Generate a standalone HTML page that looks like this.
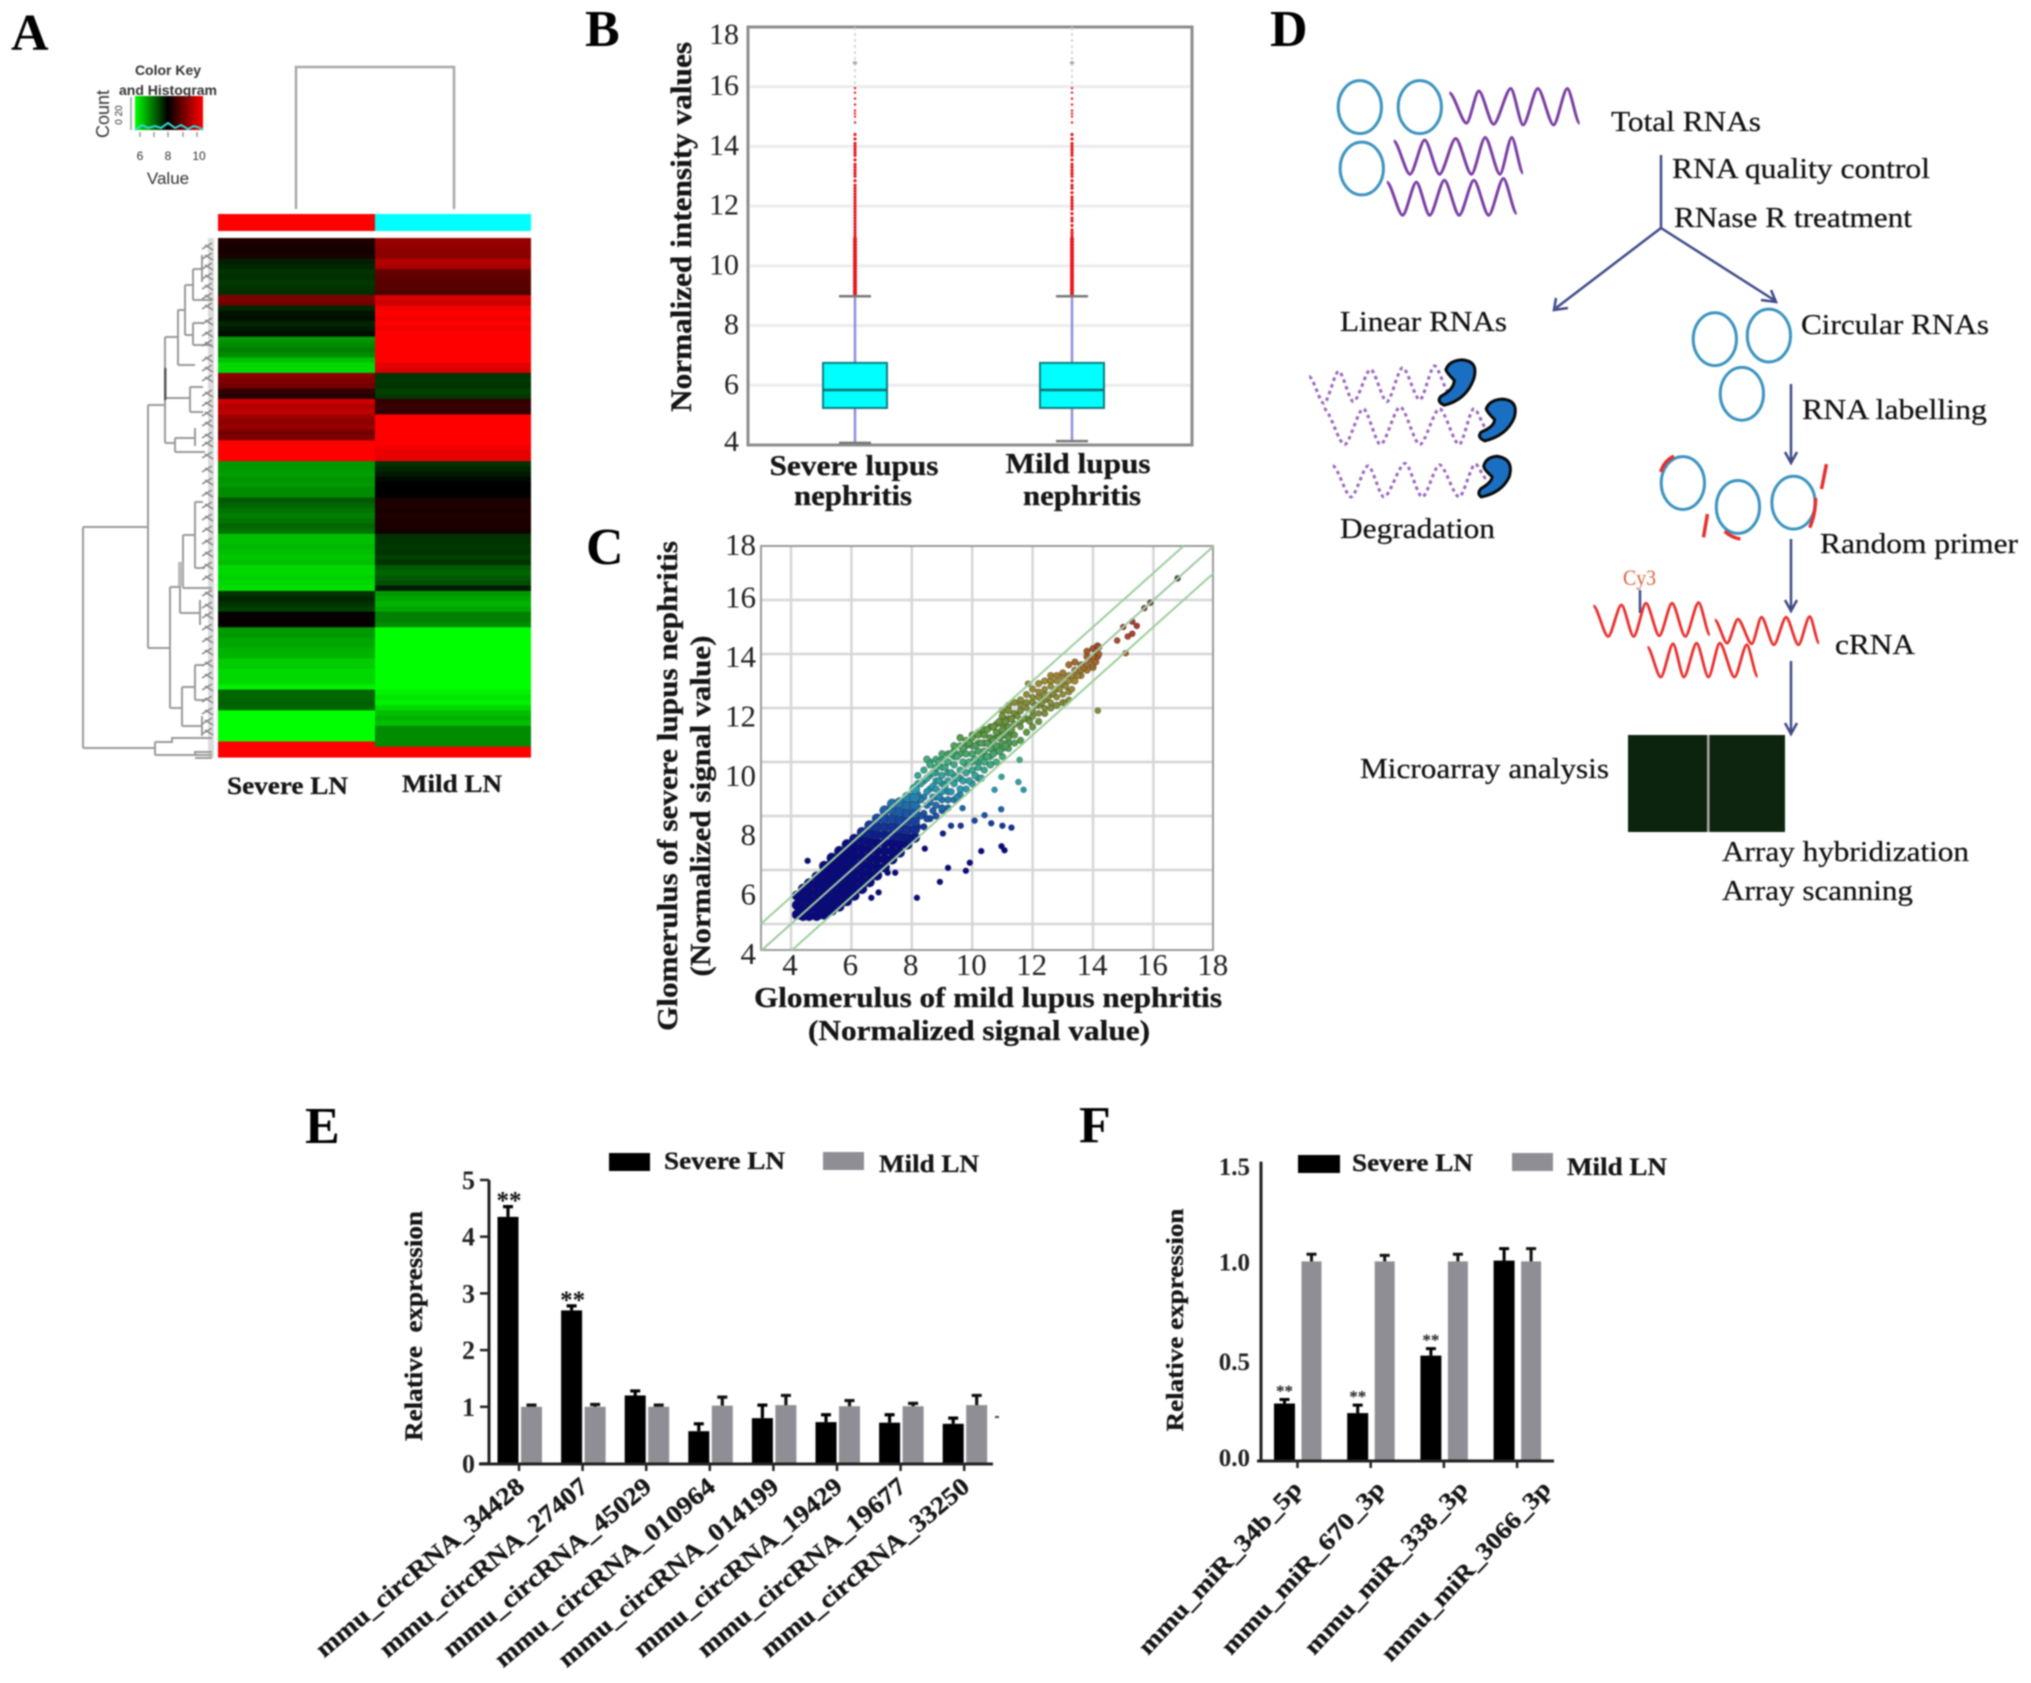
<!DOCTYPE html>
<html lang="en">
<head>
<meta charset="utf-8">
<title>Circular RNA microarray figure panels A-F</title>
<style>
html,body{margin:0;padding:0;background:#fff;}
body{width:2031px;height:1683px;overflow:hidden;}
svg{display:block;filter:blur(0.9px);}
text{font-family:"Liberation Serif",serif;}
.panel{font-size:52px;font-weight:bold;fill:#000;}
.bold{font-weight:bold;fill:#151515;stroke:#151515;stroke-width:.3px;}
.flow{font-size:29px;fill:#111;stroke:#111;stroke-width:.25px;}
.key{font-family:"Liberation Sans",sans-serif;fill:#333;}
</style>
</head>
<body>
<svg id="figure" xmlns="http://www.w3.org/2000/svg" width="2031" height="1683" viewBox="0 0 2031 1683">
<rect width="2031" height="1683" fill="#fff"/>

<!-- PANEL A -->
<g id="panelA">
  <text class="panel" x="11" y="50">A</text>
  <g>
    <defs>
      <linearGradient id="keyGrad" x1="0" x2="1" y1="0" y2="0">
        <stop offset="0" stop-color="#00ff00"/><stop offset="0.48" stop-color="#000"/><stop offset="1" stop-color="#ff0000"/>
      </linearGradient>
    </defs>
    <rect x="135" y="96" width="68" height="34" fill="url(#keyGrad)"/>
    <path d="M135 130 L142 125 L148 128 L155 126 L161 128 L168 123 L175 128 L181 125 L188 129 L194 126 L200 128 L203 130" fill="none" stroke="#2fd6d6" stroke-width="2"/>
    <path d="M140 132v5M154 132v5M168 132v5M183 132v5M197 132v5M131 97v33" fill="none" stroke="#999" stroke-width="1.5"/>
    <text class="key" x="168" y="75" text-anchor="middle" font-size="14" font-weight="bold">Color Key</text>
    <text class="key" x="168" y="95" text-anchor="middle" font-size="14" font-weight="bold">and Histogram</text>
    <text class="key" transform="translate(109,114) rotate(-90)" text-anchor="middle" font-size="18">Count</text>
    <text class="key" transform="translate(122,115) rotate(-90)" text-anchor="middle" font-size="10">0 20</text>
    <text class="key" x="140" y="160" text-anchor="middle" font-size="12">6</text>
    <text class="key" x="168" y="160" text-anchor="middle" font-size="12">8</text>
    <text class="key" x="199" y="160" text-anchor="middle" font-size="12">10</text>
    <text class="key" x="168" y="184" text-anchor="middle" font-size="17">Value</text>
  </g>
  <path d="M296 209V67H454V209" fill="none" stroke="#a8a8a8" stroke-width="2.5"/>
  <rect x="208" y="238" width="6" height="520" fill="#dcdcdc"/>
  <path id="rowDendro" fill="none" stroke="#9a9a9a" stroke-width="2"
    d="M83 527V748M83 527H148M148 405V648M148 405H165M165 337V443M165 337H178M178 310V365M178 365H195M178 310H185M185 285V335M185 285H193M193 269V300M193 300H212M193 269H202M202 255V282M185 335H193M193 323V345M193 345H212M193 323H203
       M190 387V412M165 398H190M190 387H203M190 412H203M165 443H175M175 438V452M175 438H195M175 452H205M195 428V446
       M148 648H170M170 587V708M170 587H180M180 562V613M180 613H200M200 600V625M180 565H183M183 535V588M183 588H212M183 535H195M195 502V568M195 502H203M195 568H205
       M170 708H182M182 687V726M182 726H202M202 716V736M182 687H195M195 665V700M195 665H203M195 700H205
       M83 748H155M155 742V755M155 742H172V738H212M155 755H195V752H212M195 755H212M195 758H212"/>
  <rect x="164" y="368" width="2.5" height="32" fill="#555"/>
  <rect x="178" y="562" width="5" height="24" fill="#bbb"/>
  <g id="rowLeaves"></g>
  <rect x="218" y="214" width="157" height="17" fill="#ff0000"/>
  <rect x="375" y="214" width="156" height="17" fill="#00ffff"/>
  <g id="heatCells"></g>
  <text class="bold" x="227" y="794" font-size="25" textLength="121" lengthAdjust="spacingAndGlyphs">Severe LN</text>
  <text class="bold" x="402" y="792" font-size="25" textLength="100" lengthAdjust="spacingAndGlyphs">Mild LN</text>
</g>

<!-- PANEL B -->
<g id="panelB">
  <text class="panel" x="585" y="46">B</text>
  <g id="boxGrid"></g>
  <rect x="748" y="27" width="444" height="418" fill="none" stroke="#8c8c8c" stroke-width="3"/>
  <g id="boxMarks"></g>
  <g id="boxTicks"></g>
  <text class="bold" transform="translate(691,227) rotate(-90)" text-anchor="middle" font-size="30" textLength="370" lengthAdjust="spacingAndGlyphs">Normalized intensity values</text>
  <text class="bold" x="854" y="475" text-anchor="middle" font-size="29" textLength="169" lengthAdjust="spacingAndGlyphs">Severe lupus</text>
  <text class="bold" x="853" y="505" text-anchor="middle" font-size="29" textLength="118" lengthAdjust="spacingAndGlyphs">nephritis</text>
  <text class="bold" x="1078" y="473" text-anchor="middle" font-size="29" textLength="145" lengthAdjust="spacingAndGlyphs">Mild lupus</text>
  <text class="bold" x="1082" y="505" text-anchor="middle" font-size="29" textLength="118" lengthAdjust="spacingAndGlyphs">nephritis</text>
</g>

<!-- PANEL C -->
<g id="panelC">
  <text class="panel" x="586" y="564">C</text>
  <g id="scatterGrid"></g>
  <rect x="761" y="546" width="452" height="404" fill="none" stroke="#9a9a9a" stroke-width="2"/>
  <g id="scatterPoints"></g>
  <g id="scatterLines"></g>
  <g id="scatterTicks"></g>
  <text class="bold" x="988" y="1007" text-anchor="middle" font-size="29" textLength="468" lengthAdjust="spacingAndGlyphs">Glomerulus of mild lupus nephritis</text>
  <text class="bold" x="979" y="1040" text-anchor="middle" font-size="29" textLength="342" lengthAdjust="spacingAndGlyphs">(Normalized signal value)</text>
  <text class="bold" transform="translate(677,786) rotate(-90)" text-anchor="middle" font-size="29" textLength="490" lengthAdjust="spacingAndGlyphs">Glomerulus of severe lupus nephritis</text>
  <text class="bold" transform="translate(710,806) rotate(-90)" text-anchor="middle" font-size="29" textLength="341" lengthAdjust="spacingAndGlyphs">(Normalized signal value)</text>
</g>

<!-- PANEL D -->
<g id="panelD">
  <text class="panel" x="1270" y="46">D</text>
  <g transform="translate(1260,0) scale(.4917,.357)" fill="none">
    <g stroke="#3c94bf" stroke-width="3">
      <ellipse cx="203" cy="300" rx="44" ry="74" vector-effect="non-scaling-stroke"/>
      <ellipse cx="325" cy="300" rx="44" ry="74" vector-effect="non-scaling-stroke"/>
      <ellipse cx="207" cy="472" rx="44" ry="74" vector-effect="non-scaling-stroke"/>
      <ellipse cx="925" cy="950" rx="44" ry="74" vector-effect="non-scaling-stroke"/>
      <ellipse cx="1035" cy="940" rx="44" ry="74" vector-effect="non-scaling-stroke"/>
      <ellipse cx="980" cy="1103" rx="44" ry="74" vector-effect="non-scaling-stroke"/>
      <ellipse cx="860" cy="1353" rx="44" ry="74" vector-effect="non-scaling-stroke"/>
      <ellipse cx="972" cy="1420" rx="44" ry="74" vector-effect="non-scaling-stroke"/>
      <ellipse cx="1085" cy="1408" rx="44" ry="74" vector-effect="non-scaling-stroke"/>
    </g>
    <g stroke="#7a3fa3" stroke-width="3" stroke-linejoin="round">
      <path class="wave" vector-effect="non-scaling-stroke" data-points="385,260 420,345 445,255 475,348 510,248 535,350 565,248 597,350 625,248 650,345"/>
      <path class="wave" vector-effect="non-scaling-stroke" data-points="272,395 305,488 335,392 365,488 398,388 430,488 458,385 488,488 512,385 535,485"/>
      <path class="wave" vector-effect="non-scaling-stroke" data-points="258,510 290,603 318,510 345,603 375,505 405,603 435,505 465,603 495,500 522,598"/>
    </g>
    <g stroke="#9a66bd" stroke-width="3" stroke-dasharray="3.5 3.5">
      <path class="wave" vector-effect="non-scaling-stroke" data-points="100,1055 130,1130 160,1040 190,1125 225,1035 258,1125 290,1030 325,1120 355,1025 385,1100"/>
      <path class="wave" vector-effect="non-scaling-stroke" data-points="130,1145 172,1245 210,1145 245,1245 285,1140 325,1245 365,1145 405,1245 435,1145 465,1210"/>
      <path class="wave" vector-effect="non-scaling-stroke" data-points="148,1305 185,1392 220,1305 252,1392 295,1298 330,1392 365,1302 405,1392 438,1300 460,1340"/>
    </g>
    <g fill="#1b6fc2" stroke="#0a0a0a" stroke-width="3">
      <path vector-effect="non-scaling-stroke" d="M410 1008Q445 1010 435 1060Q420 1120 375 1135Q358 1125 368 1110Q395 1090 395 1065Q380 1045 378 1035Q385 1010 410 1008Z"/>
      <path vector-effect="non-scaling-stroke" d="M492 1118Q527 1120 517 1170Q502 1220 457 1235Q440 1225 450 1210Q477 1195 477 1175Q462 1155 460 1145Q467 1120 492 1118Z"/>
      <path vector-effect="non-scaling-stroke" d="M482 1278Q517 1285 507 1335Q492 1380 450 1392Q440 1382 450 1368Q472 1350 472 1335Q455 1315 455 1305Q460 1280 482 1278Z"/>
    </g>
    <g stroke="#e52f2f" stroke-width="3.5">
      <path vector-effect="non-scaling-stroke" d="M815 1322Q822 1290 842 1278"/>
      <path vector-effect="non-scaling-stroke" d="M1152 1300L1142 1370"/>
      <path vector-effect="non-scaling-stroke" d="M1130 1395Q1130 1440 1118 1478"/>
      <path vector-effect="non-scaling-stroke" d="M910 1440L902 1505"/>
      <path vector-effect="non-scaling-stroke" d="M945 1488Q958 1505 977 1510"/>
    </g>
  </g>
  <g fill="none" stroke="#3f4a88" stroke-width="2.5">
    <path d="M1661 155V228"/>
    <path d="M1661 228L1556 308M1556 298L1554 310L1568 308"/>
    <path d="M1661 228L1774 300M1761 300L1776 302L1771 290"/>
    <path d="M1791 384V462M1785 452L1791 463L1797 452"/>
    <path d="M1791 539V610M1785 600L1791 611L1797 600"/>
    <path d="M1791 661V733M1785 723L1791 734L1797 723"/>
    <path d="M1640 590V613"/>
  </g>
  <g fill="none" stroke="#e8302f" stroke-width="2.8" stroke-linejoin="round" transform="translate(1260,480) scale(.4917,.333)">
    <path class="wave" vector-effect="non-scaling-stroke" data-points="678,378 708,470 735,375 760,470 785,370 812,468 838,370 865,470 892,368 915,465"/>
    <path class="wave" vector-effect="non-scaling-stroke" data-points="925,420 950,490 972,418 1000,492 1020,412 1045,495 1070,412 1095,495 1118,410 1137,490"/>
    <path class="wave" vector-effect="non-scaling-stroke" data-points="788,502 815,592 840,492 862,592 888,490 912,592 935,490 965,592 990,495 1012,590"/>
  </g>
  <text x="1623" y="585" font-size="22" fill="#d9603a" textLength="33" lengthAdjust="spacingAndGlyphs">Cy3</text>
  <rect x="1628" y="735" width="79" height="97" fill="#0c230d"/>
  <rect x="1709" y="735" width="76" height="97" fill="#0d250e"/>
  <rect x="1707" y="735" width="2.5" height="97" fill="#aaa"/>
  <text class="flow" x="1611" y="131" textLength="150" lengthAdjust="spacingAndGlyphs">Total RNAs</text>
  <text class="flow" x="1672" y="178" textLength="258" lengthAdjust="spacingAndGlyphs">RNA quality control</text>
  <text class="flow" x="1674" y="227" textLength="238" lengthAdjust="spacingAndGlyphs">RNase R treatment</text>
  <text class="flow" x="1340" y="331" textLength="167" lengthAdjust="spacingAndGlyphs">Linear RNAs</text>
  <text class="flow" x="1801" y="334" textLength="188" lengthAdjust="spacingAndGlyphs">Circular RNAs</text>
  <text class="flow" x="1802" y="419" textLength="185" lengthAdjust="spacingAndGlyphs">RNA labelling</text>
  <text class="flow" x="1340" y="538" textLength="155" lengthAdjust="spacingAndGlyphs">Degradation</text>
  <text class="flow" x="1820" y="553" textLength="198" lengthAdjust="spacingAndGlyphs">Random primer</text>
  <text class="flow" x="1835" y="654" textLength="80" lengthAdjust="spacingAndGlyphs">cRNA</text>
  <text class="flow" x="1360" y="778" textLength="249" lengthAdjust="spacingAndGlyphs">Microarray analysis</text>
  <text class="flow" x="1722" y="861" textLength="247" lengthAdjust="spacingAndGlyphs">Array hybridization</text>
  <text class="flow" x="1722" y="900" textLength="191" lengthAdjust="spacingAndGlyphs">Array scanning</text>
</g>

<!-- PANEL E -->
<g id="panelE">
  <text class="panel" x="305" y="1143">E</text>
  <g id="barsE"></g>
  <rect x="609" y="1153" width="41" height="18" fill="#000"/>
  <text class="bold" x="664" y="1169" font-size="25" textLength="121" lengthAdjust="spacingAndGlyphs">Severe LN</text>
  <rect x="823" y="1152" width="41" height="18" fill="#8e8e94"/>
  <text class="bold" x="879" y="1172" font-size="25" textLength="100" lengthAdjust="spacingAndGlyphs">Mild LN</text>
  <text class="bold" transform="translate(422,1326) rotate(-90)" text-anchor="middle" font-size="25" textLength="230" lengthAdjust="spacingAndGlyphs" xml:space="preserve">Relative  expression</text>
  <rect x="995" y="1416" width="4" height="2" fill="#444"/>
</g>

<!-- PANEL F -->
<g id="panelF">
  <text class="panel" x="1079" y="1142">F</text>
  <g id="barsF"></g>
  <rect x="1298" y="1155" width="42" height="18" fill="#000"/>
  <text class="bold" x="1352" y="1171" font-size="25" textLength="121" lengthAdjust="spacingAndGlyphs">Severe LN</text>
  <rect x="1512" y="1153" width="41" height="18" fill="#8e8e94"/>
  <text class="bold" x="1567" y="1175" font-size="25" textLength="100" lengthAdjust="spacingAndGlyphs">Mild LN</text>
  <text class="bold" transform="translate(1183,1320) rotate(-90)" text-anchor="middle" font-size="24" textLength="223" lengthAdjust="spacingAndGlyphs">Relative expression</text>
</g>
</svg>

<script>
// ---------- Panel A data ----------
const heatSevere = [.12,.1,.08,.1,-.12,-.15,-.2,-.18,-.22,-.2,-.18,.5,.45,-.15,-.08,-.05,-.15,-.1,-.05,-.6,-.55,-.5,-.55,-.75,-.85,-.85,.55,.5,.45,.2,.15,.8,.7,.75,.6,.55,.6,.45,.5,1,1,1,1,-.6,-.6,-.62,-.58,-.6,-.55,-.55,-.35,-.4,-.45,-.5,-.45,-.4,-.45,-.75,-.75,-.72,-.75,-.78,-.75,-.85,-.85,-.82,-.85,-.88,-.2,-.15,-.2,-.25,.02,.03,.02,-.6,-.6,-.65,-.65,-.7,-.7,-.8,-.8,-.85,-.85,-.85,-.95,-.4,-.4,-.38,-.4,-1,-1,-1,-1,-1,-1,1,1,1];
const heatMild = [.6,.58,.55,.55,.7,.65,.4,.38,.35,.35,.3,.85,.8,.95,1,.95,1,.95,1,1,1,1,1,1,.9,.85,-.2,-.22,-.2,-.25,-.22,.2,.22,.2,1,1,1,1,1,1,.95,.9,.9,-.2,-.15,-.1,-.03,0,0,0,.1,.12,.1,.12,.1,.1,.08,-.2,-.2,-.22,-.2,-.25,-.2,-.35,-.4,-.35,-.3,-.1,-.6,-.65,-.7,-.65,-.5,-.5,-.55,-1,-1,-1,-1,-1,-1,-1,-1,-1,-1,-1,-1,-.95,-.9,-.95,-.85,-.75,-.7,-.75,-.55,-.55,-.55,-.55,1,1];
const leafRows = [243,253,263,273,283,293,303,318,330,340,355,365,375,390,400,410,420,432,440,452,466,478,490,502,514,526,538,550,562,574,590,602,612,624,636,648,660,672,684,696,708,718,728];

// ---------- Panel B data ----------
const boxCategories = ['severe','mild'];
const boxQ1 = [5.24,5.24];
const boxMedian = [5.84,5.84];
const boxQ3 = [6.75,6.75];
const whiskerLow = [4.07,4.13];
const whiskerHigh = [8.98,8.98];
const outliersSevere = [9,9.1,9.2,9.3,9.4,9.5,9.6,9.7,9.8,9.9,10,10.1,10.2,10.3,10.4,10.5,10.6,10.7,10.8,10.9,11,11.1,11.2,11.3,11.4,11.5,11.6,11.7,11.8,11.9,12,12.1,12.2,12.3,12.4,12.5,12.6,12.7,12.85,13,13.1,13.2,13.3,13.4,13.55,13.7,13.8,13.9,14,14.1,14.25,14.4,14.8,15,15.1,15.2,15.4,15.6,15.8,15.95];
const outliersMild = [9,9.1,9.2,9.3,9.4,9.5,9.6,9.7,9.8,9.9,10,10.1,10.2,10.3,10.4,10.5,10.6,10.7,10.8,10.9,11,11.1,11.2,11.35,11.5,11.6,11.75,11.9,12,12.1,12.2,12.3,12.45,12.6,12.7,12.85,13,13.1,13.2,13.3,13.4,13.55,13.7,13.8,13.9,14,14.1,14.25,14.4,14.8,15,15.1,15.2,15.4,15.6,15.8,15.95];
const extremeValue = [16.8,16.8];
const boxTickLabels = [4,6,8,10,12,14,16,18];

// ---------- Panel C data ----------
const cTickLabels = [4,6,8,10,12,14,16,18];
const foldOffsets = [1,0,-1];
const cloudMild = [4.2,4.4,4.6,4.85,5.1,5.35,5.6,5.85,6.1,6.35,6.6,6.85,7.1,7.35,7.6,7.85,8.1];
const cloudSevere = [
 [4.35,4.7,5.05],
 [4.3,4.6,4.95,5.3],
 [4.3,4.6,4.9,5.2,5.5],
 [4.3,4.55,4.85,5.15,5.45,5.75],
 [4.35,4.65,4.95,5.25,5.55,5.85,6.15],
 [4.5,4.75,5.05,5.35,5.65,5.95,6.25,6.45],
 [4.65,4.95,5.25,5.55,5.85,6.15,6.45,6.7],
 [4.85,5.15,5.45,5.75,6.05,6.35,6.65,6.95],
 [5.05,5.35,5.65,5.95,6.25,6.55,6.85,7.15],
 [5.3,5.6,5.9,6.2,6.5,6.8,7.1,7.4],
 [5.55,5.85,6.15,6.45,6.75,7.05,7.35,7.65],
 [5.8,6.1,6.4,6.7,7,7.3,7.6,7.9],
 [6.1,6.4,6.7,7,7.3,7.6,7.9,8.2],
 [6.4,6.7,7,7.3,7.6,7.9,8.25,8.45],
 [6.65,6.95,7.25,7.55,7.85,8.15,8.5],
 [6.95,7.2,7.5,7.8,8.1,8.4,8.7],
 [7.2,7.5,7.8,8.1,8.4,8.7,9]
];
const midMild = [8.3,8.5,8.6,8.7,8.8,8.9,9,9.1,9.2,9.3,9.4,9.5,9.6,9.7,9.8,9.9,10,10.1,10.2,10.3,10.4,10.5,10.6,10.7,10.8,10.9,11,11.1,11.2,11.3];
const midSevere = [
 [8,8.6,9.2],[7.9,8.4,8.9,9.4,10.1],[9.9],[8.2,8.7,9.1,9.6],[8.4,9,9.8],[8.7,9.3,10],[8.3,8.9,9.5,10.3],[9.1,9.8],[8.6,9.3,10],[8.9,9.6,10.3],
 [9.2,9.9,10.6],[8.7,9.4,10.2],[9,9.7,10.9],[9.3,10,10.5],[9.6,10.3],[9.3,10,10.7],[9.7,10.3,10.9],[9.5,10.1,10.6],[9.8,10.4,11],[9.4,10.1,10.7],
 [10,10.4,11],[10.2,10.7,11.2],[9.9,10.5,10.9],[10.3,10.8,11.3],[10.6,11.1],[10.4,10.9,11.5],[10.7,11.2,11.7],[10.6,11,11.5],[10.9,11.3,11.9],[11.2,11.6]
];
const extraMild = [8.2,8.4,8.6,8.8,9,9.2,9.4,9.6,9.8,10,10.2,10.4,10.6,10.8,11,11.2,11.4,11.6,11.8,12,12.2,12.4,12.6,12.8,13,13.2,13.4,13.6,13.8,14,14.15];
const extraSevere = [
 [7.6,8,8.3,8.8,9.2,9.5],[7.6,8.1,8.7,9.3,9.7],[7.9,8.5,9,9.5,10],[8,8.7,9.3,9.6,10.1],[8.2,8.6,9.2,9.8,10.1],[8.3,8.9,9.6,10.3],[8.6,9.5,10.2,10.4],[8.8,9.4,10.3,10.6],
 [9,9.9,10.6,10.8],[9.2,10,10.6,11],[9.4,10,10.7,11.1],[9.7,10.2,10.7,11.2],[9.9,10.2,10.7,11.3],[10,10.4,10.9,11.4],[10.2,10.5,11,11.4,11.9],[10.5,10.7,11.1,11.6,12.1],
 [10.7,11,11.4,11.8,12.2],[10.8,11.5,11.9,12.3],[11.1,11.6,12.2,12.5],[11.3,11.7,12.2,12.7],[11.5,12.1,12.4,12.9],[11.8,12.3,12.5,13],[12,12.5,13,13.2],[12.1,12.7,13.2],
 [12.2,12.9,13.3],[12.6,13.2,13.6],[13,13.4,13.7],[13.2,13.6],[13.4,13.9,14.1],[13.5,14.2],[13.9,14.3]
];
const highMild = [11.5,11.6,11.7,11.8,11.85,11.9,12,12.1,12.2,12.3,12.4,12.5,12.6,12.7,12.8,12.9,13,13.1,13.2,13.3,13.5,13.6,13.7,13.8,13.9,14,14.1,14.2,14.8,15,15.08,15.15,15.3,15.45,15.7,15.9,16.8];
const highSevere = [[11.7],[11.3,12.1],[11.6],[12],[12.9],[11.5],[11.9,12.4],[12.1],[11.8,12.6],[12.2],[12,12.7],[12.4],[12.2,12.8],[12.5],[12.4,13],[12.7],[12.5,13.1],[12.2,12.8],[12.3,13],[12.7,13.2],[13.2],[13.4],[13.5],[13.6],[13.8],[13.6,13.9],[13.7,14.1],[14,14.25],[14.5],[15],[14.03],[14.65],[15.2,14.75],[15.04],[15.7],[15.9],[16.8]];
const outlierMild = [4.55,6.66,6.9,8.17,8.93,9.79,9.92,9.2,8.43,9.03,9.3,9.62,10.08,10.41,10.63,11,11.3,10.3,10.97,11.07,10.96,9.68,10.74,10.97,11.53,11.7,11.57,7.2,7.45,14.16];
const outlierSevere = [6.34,4.97,5.17,4.97,5.56,5.97,6.27,6.08,6.79,7.35,7.64,7.64,7.83,8.03,7.73,7.64,7.57,6.7,6.88,6.73,8.25,8.29,8.97,9.45,9.26,8.97,10.08,5.9,5.9,11.9];

// ---------- Panel E data ----------
const circCategories = ['mmu_circRNA_34428','mmu_circRNA_27407','mmu_circRNA_45029','mmu_circRNA_010964','mmu_circRNA_014199','mmu_circRNA_19429','mmu_circRNA_19677','mmu_circRNA_33250'];
const circSevere = [4.35,2.7,1.2,.57,.8,.73,.72,.7];
const circSevereErr = [.18,.08,.08,.13,.23,.13,.14,.1];
const circMild = [1,1,1,1.02,1.03,1.01,1.01,1.03];
const circMildErr = [.03,.04,.03,.15,.17,.1,.05,.17];
const circStars = ['**','**','','','','','',''];
const circTicks = [0,1,2,3,4,5];

// ---------- Panel F data ----------
const mirCategories = ['mmu_miR_34b_5p','mmu_miR_670_3p','mmu_miR_338_3p','mmu_miR_3066_3p'];
const mirSevere = [.288,.24,.528,1.004];
const mirSevereErr = [.02,.04,.035,.06];
const mirMild = [1,1,1,1];
const mirMildErr = [.036,.03,.036,.064];
const mirStars = ['**','**','**',''];
const mirTicks = ['0.0','0.5','1.0','1.5'];

// ---------- Helpers ----------
const NS = 'http://www.w3.org/2000/svg';
function mk(tag, attrs, parent){
  const el = document.createElementNS(NS, tag);
  for (const k in attrs) el.setAttribute(k, attrs[k]);
  parent.appendChild(el);
  return el;
}
const $ = id => document.getElementById(id);

// Draw the workflow wave illustrations through every peak and trough, with slightly rounded tips
document.querySelectorAll('.wave').forEach(el=>{
  const pts = el.getAttribute('data-points').split(' ').map(p=>p.split(',').map(Number));
  let d = `M${pts[0][0]} ${pts[0][1]}`;
  for (let i=1;i<pts.length;i++){
    const a=pts[i-1], b=pts[i], dx=(b[0]-a[0])*.28;
    d += `C${a[0]+dx} ${a[1]} ${b[0]-dx} ${b[1]} ${b[0]} ${b[1]}`;
  }
  el.setAttribute('d', d);
});

// ---------- Panel A ----------
const heatTop = 238, heatRowH = 519/heatSevere.length;
const heatY = i => heatTop + i*heatRowH;
function heatColor(v){
  const c = Math.round(Math.min(1,Math.abs(v))*255);
  return v >= 0 ? `rgb(${c},0,0)` : `rgb(0,${c},0)`;
}
heatSevere.forEach((v,i)=>{
  const el = mk('rect',{x:218,y:heatY(i),width:157,height:heatRowH+.6,fill:heatColor(v)},$('heatCells'));
  
  
});
heatMild.forEach((v,i)=>{
  const el = mk('rect',{x:375,y:heatY(i),width:156,height:heatRowH+.6,fill:heatColor(v)},$('heatCells'));
  
  
});
leafRows.forEach(y=>{
  const el = mk('path',{d:`M202 ${y+6}L212 ${y}M205 ${y+2}L213 ${y+7}`,fill:'none',stroke:'#868686','stroke-width':1.6},$('rowLeaves'));
  
  
});

// ---------- Panel B ----------
const yB = v => 445-(v-4)*29.86;
const xB = i => 855+i*217;
boxTickLabels.forEach(v=>{
  if (v>4 && v<18){
    const g = mk('line',{x1:750,x2:1190,y1:yB(v),y2:yB(v),stroke:'#ececec','stroke-width':3},$('boxGrid'));
    
    
  }
  const t = mk('text',{x:739,y:Math.min(Math.max(yB(v)-1.5,34),441)+10,'text-anchor':'end','font-size':30,fill:'#222'},$('boxTicks'));
  t.textContent = v;
  
  
});
boxCategories.forEach((c,i)=>{
  const x = xB(i), g = $('boxMarks');
  const top = mk('line',{x1:x,x2:x,y1:yB(18),y2:yB(16),stroke:'#cfcfcf','stroke-width':1.5,'stroke-dasharray':'3 3'},g);
  
  
  (i===0?outliersSevere:outliersMild).forEach(v=>{
    const p = mk('circle',{cx:x,cy:yB(v),r:v<11?2.1:(v<14.5?1.6:1.2),fill:'#e8141c'},g);
    
    
  });
  const ex = mk('rect',{x:x-2,y:yB(extremeValue[i])-1.5,width:4,height:3,fill:'#aaa'},g);
  
  
  const wh = mk('line',{x1:x,x2:x,y1:yB(whiskerHigh[i]),y2:yB(whiskerLow[i]),stroke:'#8f8fdc','stroke-width':2.5},g);
  
  
  [whiskerHigh[i],whiskerLow[i]].forEach(w=>{
    const cap = mk('line',{x1:x-16,x2:x+16,y1:yB(w),y2:yB(w),stroke:'#777','stroke-width':2.5},g);
    
    
  });
  const box = mk('rect',{x:x-32,y:yB(boxQ3[i]),width:64,height:yB(boxQ1[i])-yB(boxQ3[i]),fill:'#00ffff',stroke:'#0e7d80','stroke-width':2},g);
  
  
  const med = mk('line',{x1:x-32,x2:x+32,y1:yB(boxMedian[i]),y2:yB(boxMedian[i]),stroke:'#0e6f72','stroke-width':2.5},g);
  
  
});

// ---------- Panel C ----------
const xC = v => 791+(v-4)*30.2;
const yC = v => 924-(v-4)*27;
const colorStops = [[7,[10,10,125]],[8,[28,79,166]],[9,[42,154,176]],[10,[63,174,126]],[11,[90,154,64]],[12,[127,143,53]],[13,[160,138,48]],[14,[168,90,37]],[15,[176,58,48]],[16,[110,70,60]],[17,[60,70,60]]];
function scatterColor(y){
  if (y<=7) return 'rgb(10,10,125)';
  for (let k=1;k<colorStops.length;k++){
    if (y<=colorStops[k][0]){
      const a=colorStops[k-1],b=colorStops[k],t=(y-a[0])/(b[0]-a[0]);
      return 'rgb('+a[1].map((c,j)=>Math.round(c+(b[1][j]-c)*t)).join(',')+')';
    }
  }
  return 'rgb(60,70,60)';
}
cTickLabels.forEach(v=>{
  if (v<18){
    const gx = mk('line',{x1:xC(v),x2:xC(v),y1:546,y2:950,stroke:'#d6d6d6','stroke-width':2.5},$('scatterGrid'));
    
    
    const gy = mk('line',{x1:761,x2:1213,y1:yC(v),y2:yC(v),stroke:'#d6d6d6','stroke-width':2.5},$('scatterGrid'));
    
    
  }
  const ty = mk('text',{x:756,y:Math.max(954-(v-4)*29.7,545)+10,'text-anchor':'end','font-size':31,fill:'#222'},$('scatterTicks'));
  ty.textContent = v;
  
  
  const tx = mk('text',{x:790+(v-4)*30.2,y:975,'text-anchor':'middle','font-size':31,fill:'#222'},$('scatterTicks'));
  tx.textContent = v;
  
  
});
function drawPointGroup(xs, ys, r){
  xs.forEach((x,i)=>{
    ys[i].forEach(y=>{
      const p = mk('circle',{cx:xC(x),cy:yC(y),r:r,fill:scatterColor(y),stroke:'rgba(20,30,40,.45)','stroke-width':.7},$('scatterPoints'));
      
      
    });
  });
}
drawPointGroup(extraMild, extraSevere, 3.3);
drawPointGroup(midMild, midSevere, 3.4);
drawPointGroup(highMild, highSevere, 3);
drawPointGroup(cloudMild, cloudSevere, 5);
outlierMild.forEach((x,i)=>{
  const p = mk('circle',{cx:xC(x),cy:yC(outlierSevere[i]),r:3,fill:scatterColor(outlierSevere[i]),stroke:'rgba(20,30,40,.4)','stroke-width':.6},$('scatterPoints'));
  
  
});
foldOffsets.forEach(d=>{
  const lo = Math.max(3, 3-d), hi = Math.min(18, 18-d);
  const l = mk('line',{x1:xC(lo),y1:yC(lo+d),x2:xC(hi),y2:yC(hi+d),stroke:d===0?'#9fc8a4':'#9ccf9c','stroke-width':2},$('scatterLines'));
  
  
});

// ---------- Panel E ----------
const yE = v => 1463.5-v*56.7;
const tickE = i => 519+i*63.6;
const gE = $('barsE');
function errE(x, top, err, color){
  const e = mk('path',{d:`M${x} ${yE(top)}V${yE(top+err)}M${x-5} ${yE(top+err)}h10`,stroke:color,'stroke-width':3.2,fill:'none'},gE);
  return e;
}
circCategories.forEach((c,i)=>{
  const t = tickE(i);
  const b1 = mk('rect',{x:t-21.5,y:yE(circSevere[i]),width:21,height:yE(0)-yE(circSevere[i]),fill:'#000'},gE);
  
  
  const e1 = errE(t-11,circSevere[i],circSevereErr[i],'#000');
  
  
  const b2 = mk('rect',{x:t+2,y:yE(circMild[i]),width:21,height:yE(0)-yE(circMild[i]),fill:'#8e8e94'},gE);
  
  
  const e2 = errE(t+12.5,circMild[i],circMildErr[i],'#111');
  
  
  if (circStars[i]){
    const s = mk('text',{x:t-10,y:yE(circSevere[i]+circSevereErr[i])+2,'text-anchor':'middle','font-size':25,'font-weight':'bold',fill:'#111'},gE);
    s.textContent = circStars[i];
    
    
  }
  const tk = mk('line',{x1:t,x2:t,y1:1463,y2:1471,stroke:'#222','stroke-width':2.5},gE);
  
  
  const lb = mk('text',{transform:`translate(${t+7},1489) rotate(-40)`,'text-anchor':'end','font-size':25,'font-weight':'bold',fill:'#151515',stroke:'#151515','stroke-width':.3,textLength:c.length*15.5,lengthAdjust:'spacingAndGlyphs'},gE);
  lb.textContent = c;
  
  
});
const axE = mk('path',{d:`M489 ${yE(5)}V1464M479 1464H993`,stroke:'#222','stroke-width':3,fill:'none'},gE);


circTicks.forEach(v=>{
  const tk = mk('line',{x1:480,x2:489,y1:yE(v),y2:yE(v),stroke:'#222','stroke-width':2.5},gE);
  
  
  const lb = mk('text',{x:475,y:yE(v)+9,'text-anchor':'end','font-size':26,'font-weight':'bold',fill:'#222'},gE);
  lb.textContent = v;
  
  
});

// ---------- Panel F ----------
const yF = v => 1461-v*199.6;
const tickF = i => 1297.5+i*73.2;
const labelEndF = i => 1303+i*83;
const gF = $('barsF');
mirCategories.forEach((c,i)=>{
  const t = tickF(i);
  const b1 = mk('rect',{x:t-23.5,y:yF(mirSevere[i]),width:21,height:yF(0)-yF(mirSevere[i]),fill:'#000'},gF);
  
  
  const e1 = mk('path',{d:`M${t-13} ${yF(mirSevere[i])}V${yF(mirSevere[i]+mirSevereErr[i])}M${t-18} ${yF(mirSevere[i]+mirSevereErr[i])}h10`,stroke:'#000','stroke-width':3,fill:'none'},gF);
  
  
  const b2 = mk('rect',{x:t+4,y:yF(mirMild[i]),width:20,height:yF(0)-yF(mirMild[i]),fill:'#8e8e94'},gF);
  
  
  const e2 = mk('path',{d:`M${t+14} ${yF(mirMild[i])}V${yF(mirMild[i]+mirMildErr[i])}M${t+9} ${yF(mirMild[i]+mirMildErr[i])}h10`,stroke:'#111','stroke-width':3,fill:'none'},gF);
  
  
  if (mirStars[i]){
    const s = mk('text',{x:t-13,y:yF(mirSevere[i]+mirSevereErr[i])-3,'text-anchor':'middle','font-size':17,'font-weight':'bold',fill:'#222'},gF);
    s.textContent = mirStars[i];
    
    
  }
  const tk = mk('line',{x1:t,x2:t,y1:1460,y2:1468,stroke:'#222','stroke-width':2.5},gF);
  
  
  const lb = mk('text',{transform:`translate(${labelEndF(i)},1490) rotate(-47)`,'text-anchor':'end','font-size':24,'font-weight':'bold',fill:'#151515',stroke:'#151515','stroke-width':.3,textLength:227+(c.length-14)*9,lengthAdjust:'spacingAndGlyphs'},gF);
  lb.textContent = c;
  
  
});
const axF = mk('path',{d:`M1261 ${yF(1.5)}V1461M1257 1461H1554`,stroke:'#222','stroke-width':3,fill:'none'},gF);


mirTicks.forEach(v=>{
  const lb = mk('text',{x:1250,y:Math.max(yF(+v)+9-(+v===0?4:0),1175),'text-anchor':'end','font-size':25,'font-weight':'bold',fill:'#222'},gF);
  lb.textContent = v;
  
  
});
</script>
</body>
</html>
